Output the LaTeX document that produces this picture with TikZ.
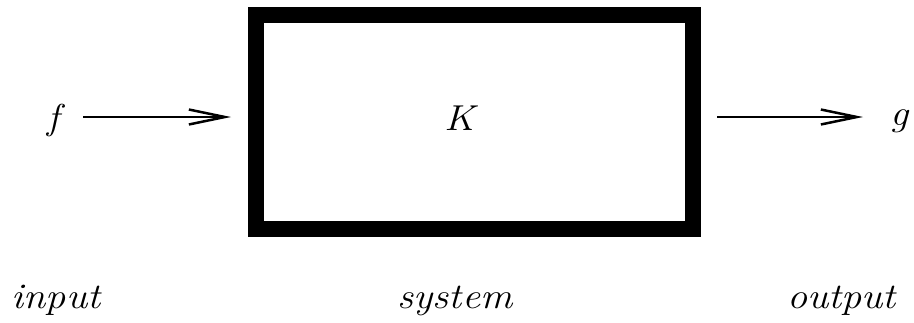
\documentclass[tikz,border=0pt]{standalone}
\usetikzlibrary{arrows.meta, positioning}
\newcommand{\widetext}[1]{\scalebox{1.12}[1]{#1}}

\begin{document}
\begin{tikzpicture}[
    x=1pt, y=-1pt,
    every node/.style={font=\fontsize{36}{40}\selectfont\itshape, inner sep=0pt},
    sysbox/.style={draw=black, line width=16pt, minimum width=437pt, minimum height=214pt},
    arrow/.style={-{Straight Barb[length=36pt, width=15pt]}, line width=2.5pt},
    caption/.style={anchor=base}
]
\useasboundingbox (0,0) rectangle (914,322);

% SYSTEM BLOCK
\node[sysbox] (sys) at (474.5,121.5) {};
\node[caption] (K) at (460,130) {\widetext{K}};

% SIGNALS
\node[caption] (f) at (54,129) {\widetext{f}};
\node[caption] (g) at (900,125) {\widetext{g}};
\coordinate (fin) at (83,117);
\coordinate (gout) at (863,117);

% ARROWS
\draw[arrow, shorten >=17pt] (fin) -- (fin -| sys.west);
\draw[arrow, shorten <=16pt] (gout -| sys.east) -- (gout);

% LABELS
\node[caption] (input) at (56,308) {\widetext{input}};
\node[caption] (system) at (455,308) {\widetext{system}};
\node[caption] (output) at (841.5,308) {\widetext{output}};

\end{tikzpicture}
\end{document}
